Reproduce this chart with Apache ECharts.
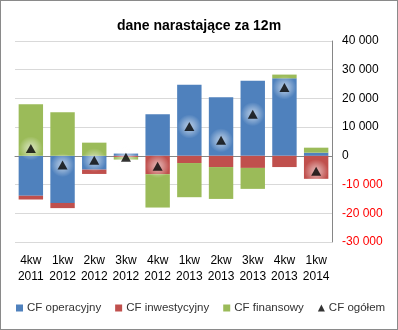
<!DOCTYPE html>
<html>
<head>
<meta charset="utf-8">
<script src="https://cdn.jsdelivr.net/npm/echarts@6/dist/echarts.min.js"></script>
<style>
html,body{margin:0;padding:0;background:#fff;}
#c{width:398px;height:330px;box-sizing:border-box;border:1px solid #8a8a8a;}
</style>
</head>
<body>
<div id="c"></div>
<script>
var categories = ['4kw\n2011','1kw\n2012','2kw\n2012','3kw\n2012','4kw\n2012','1kw\n2013','2kw\n2013','3kw\n2013','4kw\n2013','1kw\n2014'];
var operacyjny = [-13900, -16400, -4800, 800, 14500, 24800, 20400, 26200, 27000, 1100];
var inwestycyjny = [-1300, -1800, -1500, -400, -6400, -2500, -3900, -4200, -3900, -8000];
var finansowy = [18000, 15200, 4600, -900, -11600, -11900, -11100, -7300, 1300, 1750];
var ogolem = [2600, -3200, -1500, -500, -3600, 10200, 5400, 14500, 23800, -5400];
var seriesNames = ['CF operacyjny', 'CF inwestycyjny', 'CF finansowy', 'CF ogółem'];

var font = 'Liberation Sans';
var chart = echarts.init(document.getElementById('c'), null, {renderer: 'canvas'});
function fmt(v) {
  var s = String(Math.abs(v)).replace(/\B(?=(\d{3})+(?!\d))/g, ' ');
  return (v < 0 ? '-' : '') + s;
}
var barStyle = function (color) {
  return {type: 'bar', stack: 'cf', barWidth: '77%', itemStyle: {color: color}, emphasis: {disabled: true}};
};
var s0 = barStyle('#4F81BD'); s0.name = seriesNames[0]; s0.data = operacyjny;
var s1 = barStyle('#C0504D'); s1.name = seriesNames[1]; s1.data = inwestycyjny;
var s2 = barStyle('#9BBB59'); s2.name = seriesNames[2]; s2.data = finansowy;
chart.setOption({
  animation: false,
  title: {text: 'dane narastające za 12m', left: 'center', top: 13,
    textStyle: {fontFamily: font, fontSize: 14, fontWeight: 'bold', color: '#000'}},
  legend: {
    bottom: 10, left: 10, width: 392, itemWidth: 7, itemHeight: 7, itemGap: 14,
    textStyle: {fontFamily: font, fontSize: 11.5, color: '#333', padding: [0, 0, 0, -1]},
    data: [
      {name: seriesNames[0], icon: 'rect'},
      {name: seriesNames[1], icon: 'rect'},
      {name: seriesNames[2], icon: 'rect'},
      {name: seriesNames[3], icon: 'triangle', itemStyle: {color: '#000'}}
    ]
  },
  grid: {left: 14, right: 65, top: 40, bottom: 87, containLabel: false},
  xAxis: [
    {type: 'category', data: categories, position: 'bottom',
      axisLine: {show: false, onZero: false}, axisTick: {show: false},
      axisLabel: {fontFamily: font, fontSize: 12, color: '#000', margin: 11, lineHeight: 16, interval: 0}},
    {type: 'category', data: categories, position: 'bottom',
      axisLine: {show: true, onZero: true, lineStyle: {color: '#868686', width: 1}},
      axisTick: {show: false}, axisLabel: {show: false}, splitLine: {show: false}}
  ],
  yAxis: {
    type: 'value', position: 'right', min: -30000, max: 40000, interval: 10000,
    axisLine: {show: true, lineStyle: {color: '#868686'}}, axisTick: {show: false},
    splitLine: {lineStyle: {color: '#d9d9d9'}},
    axisLabel: {fontFamily: font, fontSize: 12, margin: 10, align: 'left',
      formatter: fmt, color: function (v) { return Number(v) < 0 ? '#ff0000' : '#000'; }}
  },
  series: [s0, s1, s2,
    {name: 'glow', type: 'scatter', data: ogolem, symbol: 'circle', symbolSize: 24, z: 4, silent: true,
      itemStyle: {color: {type: 'radial', x: 0.5, y: 0.5, r: 0.5, colorStops: [
        {offset: 0, color: 'rgba(255,255,255,0.75)'}, {offset: 0.45, color: 'rgba(255,255,255,0.45)'},
        {offset: 1, color: 'rgba(255,255,255,0)'}]}}, emphasis: {disabled: true}},
    {name: seriesNames[3], type: 'scatter', data: ogolem, symbol: 'triangle', symbolSize: [10, 9], z: 5,
      itemStyle: {color: '#000'}, emphasis: {disabled: true}}
  ]
});
</script>
</body>
</html>
